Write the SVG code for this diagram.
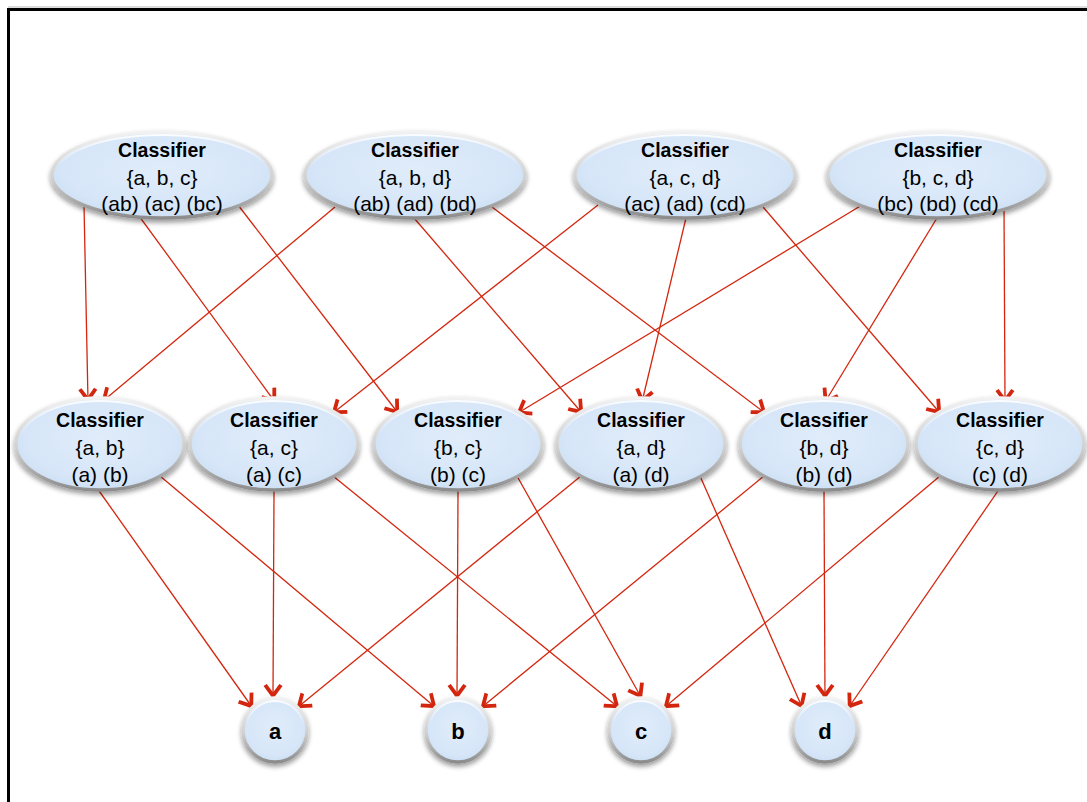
<svg xmlns="http://www.w3.org/2000/svg" width="1087" height="802" viewBox="0 0 1087 802">
  <defs>
    <radialGradient id="bubbleFill" cx="50%" cy="45%" r="60%">
      <stop offset="0" stop-color="#e0ecfa"/>
      <stop offset="0.75" stop-color="#d6e6f8"/>
      <stop offset="1" stop-color="#c9dcf2"/>
    </radialGradient>
    <linearGradient id="rimStroke" x1="0" y1="0" x2="0" y2="1">
      <stop offset="0" stop-color="#f2f2f2"/>
      <stop offset="0.55" stop-color="#d0d0d0"/>
      <stop offset="1" stop-color="#8c8c8c"/>
    </linearGradient>
    <linearGradient id="innerGlow" x1="0" y1="0" x2="0" y2="1">
      <stop offset="0" stop-color="#ffffff" stop-opacity="0.9"/>
      <stop offset="0.4" stop-color="#ffffff" stop-opacity="0"/>
      <stop offset="1" stop-color="#ffffff" stop-opacity="0"/>
    </linearGradient>
    <filter id="dropShadow" x="-20%" y="-20%" width="140%" height="150%">
      <feGaussianBlur in="SourceAlpha" stdDeviation="2.5"/>
      <feOffset dx="0" dy="3" result="b"/>
      <feComponentTransfer><feFuncA type="linear" slope="0.4"/></feComponentTransfer>
      <feMerge><feMergeNode/><feMergeNode in="SourceGraphic"/></feMerge>
    </filter>
    <!-- open chevron arrowhead, drawn as a filled outline so it stays heavy -->
    <marker id="vhead" markerUnits="userSpaceOnUse" markerWidth="30" markerHeight="30" viewBox="-20 -15 30 30" refX="0" refY="0" orient="auto" overflow="visible">
      <path d="M 2,0 L -11,-9.5 L -13,-6.3 L -4.5,0 L -13,6.3 L -11,9.5 Z" fill="#d4260e" stroke="none"/>
    </marker>
  </defs>
  <style>
    .bubble { fill: url(#bubbleFill); stroke: url(#rimStroke); stroke-width: 3.5; filter: url(#dropShadow); }
    .glow { fill: none; stroke: url(#innerGlow); stroke-width: 2; }
    .title { font-family: "Liberation Sans", Arial, sans-serif; font-weight: bold; font-size: 19.5px; fill: #000; text-anchor: middle; }
    .line { font-family: "Liberation Sans", Arial, sans-serif; font-size: 21px; fill: #000; text-anchor: middle; }
    .leaf { font-family: "Liberation Sans", Arial, sans-serif; font-weight: bold; font-size: 22px; fill: #000; text-anchor: middle; }
    .edge { stroke: #d4260e; stroke-width: 1.3; fill: none; marker-end: url(#vhead); }
  </style>

  <rect width="1087" height="802" fill="#ffffff"/>
  <!-- frame -->
  <path d="M 8.5,802 L 8.5,9.5 L 1087,9.5" fill="none" stroke="#000" stroke-width="3"/>
  <line x1="8" y1="7" x2="1087" y2="7" stroke="#bbbbbb" stroke-width="1"/>

  <!-- connectors -->
  <g id="connectors">
    <!-- three-class to two-class -->
    <line class="edge" x1="84" y1="205" x2="88" y2="401"/>
    <line class="edge" x1="131" y1="205" x2="275" y2="402"/>
    <line class="edge" x1="238" y1="205" x2="398" y2="413"/>
    <line class="edge" x1="335" y1="207" x2="103" y2="401"/>
    <line class="edge" x1="414" y1="218" x2="582" y2="413"/>
    <line class="edge" x1="492" y1="207" x2="765" y2="413"/>
    <line class="edge" x1="598" y1="205" x2="333" y2="413"/>
    <line class="edge" x1="686" y1="218" x2="642" y2="402"/>
    <line class="edge" x1="763" y1="207" x2="940" y2="413"/>
    <line class="edge" x1="862" y1="205" x2="518" y2="413"/>
    <line class="edge" x1="937" y1="218" x2="825" y2="402"/>
    <line class="edge" x1="1004" y1="205" x2="1005" y2="402"/>
    <!-- two-class to single class -->
    <line class="edge" x1="97" y1="488" x2="252" y2="707"/>
    <line class="edge" x1="160" y1="476" x2="435" y2="707"/>
    <line class="edge" x1="274" y1="491" x2="273" y2="697"/>
    <line class="edge" x1="333" y1="476" x2="618" y2="707"/>
    <line class="edge" x1="458" y1="491" x2="457" y2="697"/>
    <line class="edge" x1="517" y1="476" x2="641" y2="697"/>
    <line class="edge" x1="581" y1="476" x2="298" y2="707"/>
    <line class="edge" x1="700" y1="476" x2="802" y2="707"/>
    <line class="edge" x1="764" y1="476" x2="482" y2="707"/>
    <line class="edge" x1="824" y1="491" x2="825" y2="697"/>
    <line class="edge" x1="940" y1="476" x2="665" y2="707"/>
    <line class="edge" x1="1000" y1="488" x2="849" y2="707"/>
  </g>

  <!-- three-class classifiers -->
  <g id="abc">
    <ellipse class="bubble" cx="162" cy="175" rx="110" ry="43"/>
    <ellipse class="glow" cx="162" cy="175" rx="107" ry="40"/>
    <text class="title" x="162" y="157">Classifier</text>
    <text class="line" x="162" y="185">{a, b, c}</text>
    <text class="line" x="162" y="211">(ab) (ac) (bc)</text>
  </g>
  <g id="abd">
    <ellipse class="bubble" cx="415" cy="175" rx="110" ry="43"/>
    <ellipse class="glow" cx="415" cy="175" rx="107" ry="40"/>
    <text class="title" x="415" y="157">Classifier</text>
    <text class="line" x="415" y="185">{a, b, d}</text>
    <text class="line" x="415" y="211">(ab) (ad) (bd)</text>
  </g>
  <g id="acd">
    <ellipse class="bubble" cx="685" cy="175" rx="110" ry="43"/>
    <ellipse class="glow" cx="685" cy="175" rx="107" ry="40"/>
    <text class="title" x="685" y="157">Classifier</text>
    <text class="line" x="685" y="185">{a, c, d}</text>
    <text class="line" x="685" y="211">(ac) (ad) (cd)</text>
  </g>
  <g id="bcd">
    <ellipse class="bubble" cx="938" cy="175" rx="110" ry="43"/>
    <ellipse class="glow" cx="938" cy="175" rx="107" ry="40"/>
    <text class="title" x="938" y="157">Classifier</text>
    <text class="line" x="938" y="185">{b, c, d}</text>
    <text class="line" x="938" y="211">(bc) (bd) (cd)</text>
  </g>

  <!-- two-class classifiers -->
  <g id="ab">
    <ellipse class="bubble" cx="100" cy="444" rx="84" ry="46"/>
    <ellipse class="glow" cx="100" cy="444" rx="81" ry="43"/>
    <text class="title" x="100" y="427">Classifier</text>
    <text class="line" x="100" y="455">{a, b}</text>
    <text class="line" x="100" y="482">(a) (b)</text>
  </g>
  <g id="ac">
    <ellipse class="bubble" cx="274" cy="444" rx="84" ry="46"/>
    <ellipse class="glow" cx="274" cy="444" rx="81" ry="43"/>
    <text class="title" x="274" y="427">Classifier</text>
    <text class="line" x="274" y="455">{a, c}</text>
    <text class="line" x="274" y="482">(a) (c)</text>
  </g>
  <g id="bc">
    <ellipse class="bubble" cx="458" cy="444" rx="84" ry="46"/>
    <ellipse class="glow" cx="458" cy="444" rx="81" ry="43"/>
    <text class="title" x="458" y="427">Classifier</text>
    <text class="line" x="458" y="455">{b, c}</text>
    <text class="line" x="458" y="482">(b) (c)</text>
  </g>
  <g id="ad">
    <ellipse class="bubble" cx="641" cy="444" rx="84" ry="46"/>
    <ellipse class="glow" cx="641" cy="444" rx="81" ry="43"/>
    <text class="title" x="641" y="427">Classifier</text>
    <text class="line" x="641" y="455">{a, d}</text>
    <text class="line" x="641" y="482">(a) (d)</text>
  </g>
  <g id="bd">
    <ellipse class="bubble" cx="824" cy="444" rx="84" ry="46"/>
    <ellipse class="glow" cx="824" cy="444" rx="81" ry="43"/>
    <text class="title" x="824" y="427">Classifier</text>
    <text class="line" x="824" y="455">{b, d}</text>
    <text class="line" x="824" y="482">(b) (d)</text>
  </g>
  <g id="cd">
    <ellipse class="bubble" cx="1000" cy="444" rx="84" ry="46"/>
    <ellipse class="glow" cx="1000" cy="444" rx="81" ry="43"/>
    <text class="title" x="1000" y="427">Classifier</text>
    <text class="line" x="1000" y="455">{c, d}</text>
    <text class="line" x="1000" y="482">(c) (d)</text>
  </g>

  <!-- single classes -->
  <g id="a">
    <circle class="bubble" cx="275" cy="730" r="32"/>
    <circle class="glow" cx="275" cy="730" r="29"/>
    <text class="leaf" x="275" y="739">a</text>
  </g>
  <g id="b">
    <circle class="bubble" cx="458" cy="730" r="32"/>
    <circle class="glow" cx="458" cy="730" r="29"/>
    <text class="leaf" x="458" y="739">b</text>
  </g>
  <g id="c">
    <circle class="bubble" cx="641" cy="730" r="32"/>
    <circle class="glow" cx="641" cy="730" r="29"/>
    <text class="leaf" x="641" y="739">c</text>
  </g>
  <g id="d">
    <circle class="bubble" cx="825" cy="730" r="32"/>
    <circle class="glow" cx="825" cy="730" r="29"/>
    <text class="leaf" x="825" y="739">d</text>
  </g>
</svg>
